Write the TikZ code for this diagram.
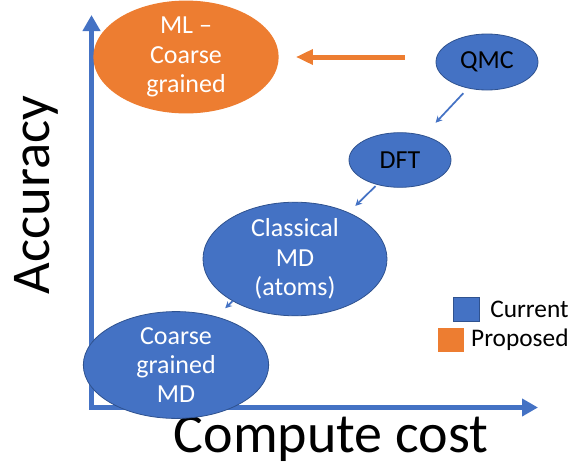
\documentclass[tikz,border=0pt]{standalone}
\usepackage{fontspec}
\setmainfont{Carlito}
\usetikzlibrary{arrows.meta, positioning, shapes.geometric}
\definecolor{curblue}{HTML}{4472C4}
\definecolor{curedge}{HTML}{2F528F}
\definecolor{proporange}{HTML}{ED7D31}

\begin{document}
\begin{tikzpicture}[
    x=0.75pt, y=-0.75pt,
    method/.style={
        ellipse, fill=#1, inner sep=0pt, align=center,
        font=\fontsize{19.5}{22}\selectfont, text=white
    },
    current/.style={method=curblue, draw=curedge, line width=0.6pt},
    proposed/.style={method=proporange},
    arrow/.style={-{Stealth[length=5pt,width=5pt]}, line width=1.3pt, color=curblue},
    parrow/.style={-{Triangle[length=12.75pt,width=11pt]}, line width=3.75pt, color=proporange},
    axis/.style={{Triangle[length=12pt,width=12.75pt]}-{Triangle[length=12pt,width=12.75pt]},
        line width=3.75pt, color=curblue},
    swatch/.style={rectangle, fill=#1, inner sep=0pt, minimum width=19.5pt, minimum height=18pt},
    legtext/.style={font=\fontsize{19}{22}\selectfont, inner sep=0pt}
]
\useasboundingbox (0,0) rectangle (572,468);

% Axes
\coordinate (ytop) at (91.5,15);
\coordinate (orig) at (91.5,407.5);
\coordinate (xend) at (538,407.5);
\draw[axis] (ytop) -- (orig) -- (xend);

\node[font=\fontsize{41}{41}\selectfont, rotate=90, anchor=base, inner sep=0pt] (acc) at (49,195) {Accuracy};
\node[font=\fontsize{42}{42}\selectfont, anchor=base, inner sep=0pt] (cost) at (331,452) {Compute cost};

% Methods
\node[proposed, minimum width=139pt, minimum height=70pt] (ml) at (186,57) {ML –\\Coarse\\grained};
\node[current, text=black, minimum width=76.5pt, minimum height=42pt] (qmc) at (487,62) {QMC};
\node[current, text=black, minimum width=76.5pt, minimum height=41pt] (dft) at (400,160) {DFT};
\node[current, minimum width=138pt, minimum height=69pt] (cmd) at (295,259) {Classical\\MD\\(atoms)};
\node[current, minimum width=139pt, minimum height=63pt] (cgmd) at (176,365) {Coarse\\grained\\MD};

% Connectors
\draw[arrow, shorten <=5pt, shorten >=13pt] (qmc.234) -- (dft.46);
\draw[arrow, shorten <=1.5pt, shorten >=7pt] (dft.227) -- (cmd.41);
\draw[arrow, shorten >=9pt] (cmd.214) -- (cgmd.50);
\draw[parrow, shorten <=23pt, shorten >=12.75pt] (qmc.west |- ml.east) -- (ml.east);

% Legend
\node[swatch=curblue, draw=curedge, line width=0.6pt] (legcur) at (466,309) {};
\node[swatch=proporange] (legprop) at (451,339.5) {};
\node[legtext, right=8pt of legcur] (curtxt) {Current};
\node[legtext, right=5pt of legprop] (proptxt) {Proposed};

\end{tikzpicture}
\end{document}
